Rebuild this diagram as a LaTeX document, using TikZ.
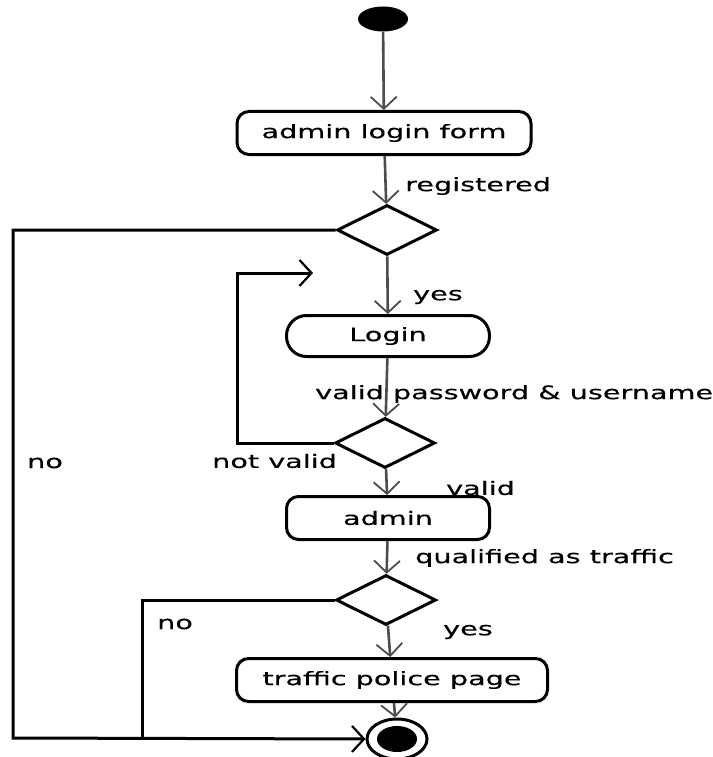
\documentclass[tikz,border=0pt]{standalone}
\usepackage{fontspec}
\setmainfont[FakeStretch=1.55,FakeBold=0.4]{DejaVu Sans}
\usetikzlibrary{shapes.geometric,arrows.meta}

\begin{document}
\begin{tikzpicture}[x=1pt,y=-1pt,
    every node/.style={font=\fontsize{18.5}{22}\selectfont},
    activity/.style={draw,line width=3pt,rounded corners=12pt,minimum height=43pt,inner sep=0pt},
    decision/.style={draw,diamond,line width=3pt,minimum width=100pt,minimum height=50pt,inner sep=0pt},
    flow/.style={draw=gray!60!black,line width=2.6pt,-{Straight Barb[length=12pt,width=26pt,line width=1.8pt]}},
    route/.style={draw=black,line width=3pt},
    routearrow/.style={route,-{Straight Barb[length=12pt,width=26pt,line width=2.2pt]}}]
      \useasboundingbox (0,0) rectangle (712,757);
      % states
      \node[ellipse,fill=black,minimum width=50pt,minimum height=25pt] (start) at (383,19) {};
      \node[activity,minimum width=294pt] (form) at (384,133) {admin login form};
      \node[decision] (d1) at (387,230) {};
      \node[activity,rounded corners=20pt,minimum width=203pt,minimum height=41pt] (login) at (388,336) {Login};
      \node[decision] (d2) at (385,443) {};
      \node[activity,minimum width=203pt] (admin) at (388,518) {admin};
      \node[decision] (d3) at (386,600) {};
      \node[activity,minimum width=311pt] (police) at (392,680) {traffic police page};
      \node[ellipse,draw,line width=3pt,minimum width=60pt,minimum height=40pt] (final) at (397,739) {};
      \node[ellipse,fill=black,minimum width=40pt,minimum height=26pt] (finalin) at (397,739) {};
      % flows
      \draw[flow] (start) -- (form);
      \draw[flow] (form) -- (d1);
      \draw[flow] (d1) -- (login);
      \draw[flow] (login) -- (d2);
      \draw[flow] (d2) -- (admin);
      \draw[flow] (admin) -- (d3);
      \draw[flow] (d3) -- (police);
      \draw[flow] (police) -- (final);
      % branches
      \coordinate (outer) at (13,738);
      \coordinate (inner) at (142,738);
      \coordinate (loopend) at (313,273);
      \draw[routearrow] (d1.west) -| (outer) -- (final.west);
      \draw[route] (d3.west) -| (inner);
      \draw[routearrow] (d2.west) -| (237,273) -- (loopend);
      % guards
      \node[right,inner sep=0pt] (lreg) at (405,186) {registered};
      \node[right,inner sep=0pt] (lyes1) at (413,297) {yes};
      \node[right,inner sep=0pt] (lvalidpw) at (315,394) {valid password \& username};
      \node[right,inner sep=0pt] (lnot) at (212,461) {not valid};
      \node[right,inner sep=0pt] (lvalid) at (446,488) {valid};
      \node[right,inner sep=0pt] (lqual) at (415,558) {qualified as traffic};
      \node[right,inner sep=0pt] (lno1) at (27,463) {no};
      \node[right,inner sep=0pt] (lno2) at (157,624) {no};
      \node[right,inner sep=0pt] (lyes2) at (443,632) {yes};
\end{tikzpicture}
\end{document}
